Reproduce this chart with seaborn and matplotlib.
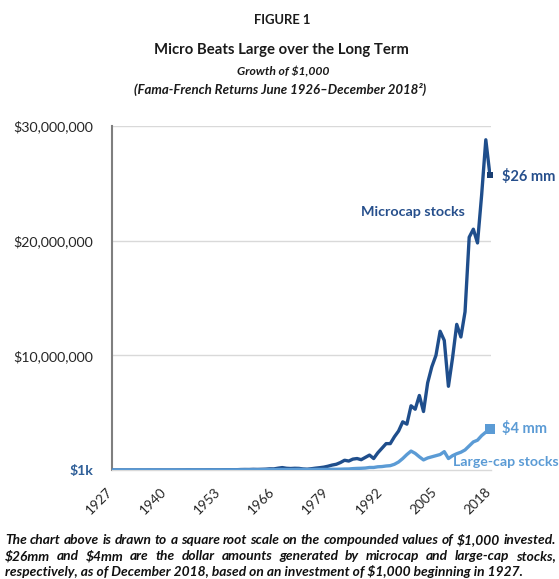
import matplotlib
matplotlib.use("Agg")
import matplotlib.pyplot as plt
import matplotlib.transforms as mtransforms
import seaborn as sns
import pandas as pd

# ---------------- data (values in $ millions) ----------------
years = list(range(1927, 2019))

microcap_mm = [
    0.001, 0.0012, 0.0008, 0.0005, 0.0003, 0.0003, 0.0008, 0.0009, 0.0013, 0.0022,   # 1927-1936
    0.0011, 0.0014, 0.0014, 0.0012, 0.0011, 0.0018, 0.0035, 0.0055, 0.0095, 0.0085,  # 1937-1946
    0.0085, 0.008, 0.0098, 0.0135, 0.0145, 0.015, 0.0145, 0.023, 0.027, 0.028,       # 1947-1956
    0.025, 0.042, 0.048, 0.045, 0.06, 0.052, 0.062, 0.073, 0.10, 0.095,              # 1957-1966
    0.16, 0.21, 0.15, 0.13, 0.15, 0.14, 0.09, 0.07, 0.11, 0.16,                      # 1967-1976
    0.20, 0.25, 0.33, 0.43, 0.50, 0.65, 0.85, 0.78, 0.95, 1.0,                       # 1977-1986
    0.9, 1.1, 1.3, 1.0, 1.5, 1.9, 2.3, 2.3, 2.9, 3.4,                                # 1987-1996
    4.2, 4.0, 5.6, 5.3, 6.5, 5.1, 7.6, 9.0, 10.0, 12.1,                              # 1997-2006
    11.3, 7.3, 9.8, 12.7, 11.6, 13.8, 20.3, 21.0, 19.8, 24.0,                        # 2007-2016
    28.8, 25.7,                                                                       # 2017-2018
]

largecap_mm = [
    0.001, 0.0014, 0.0013, 0.001, 0.0006, 0.0005, 0.0008, 0.0008, 0.0012, 0.0016,    # 1927-1936
    0.001, 0.0013, 0.0013, 0.0012, 0.001, 0.0013, 0.0016, 0.0019, 0.0026, 0.0024,    # 1937-1946
    0.0025, 0.0027, 0.0032, 0.0042, 0.0052, 0.0062, 0.0061, 0.0093, 0.012, 0.013,    # 1947-1956
    0.012, 0.017, 0.019, 0.019, 0.024, 0.022, 0.027, 0.031, 0.035, 0.032,            # 1957-1966
    0.039, 0.043, 0.040, 0.041, 0.047, 0.056, 0.048, 0.035, 0.045, 0.050,            # 1967-1976
    0.048, 0.050, 0.055, 0.065, 0.062, 0.072, 0.085, 0.09, 0.12, 0.14,               # 1977-1986
    0.15, 0.17, 0.22, 0.22, 0.28, 0.30, 0.35, 0.38, 0.50, 0.70,                      # 1987-1996
    1.0, 1.35, 1.65, 1.45, 1.15, 0.88, 1.05, 1.15, 1.25, 1.35,                       # 1997-2006
    1.6, 1.0, 1.25, 1.42, 1.55, 1.75, 2.1, 2.45, 2.6, 3.0,                           # 2007-2016
    3.3, 3.55,                                                                        # 2017-2018
]

series_names = ["Microcap stocks", "Large-cap stocks"]
end_labels = ["$26 mm", "$4 mm"]
ytick_values = [0, 10, 20, 30]
ytick_labels = ["$1k", "$10,000,000", "$20,000,000", "$30,000,000"]
xtick_years = [1927, 1940, 1953, 1966, 1979, 1992, 2005, 2018]

DARK = "#1f4e8c"
LIGHT = "#5b9bd5"

# ---------------- figure ----------------
sns.set_theme(style="white")
plt.rcParams["font.family"] = ["Lato", "DejaVu Sans"]

W, H = 559, 579
fig = plt.figure(figsize=(W / 100, H / 100), dpi=100)
ax = fig.add_axes([112 / W, 1 - 470 / H, (491 - 112) / W, (470 - 126) / H])

df = pd.DataFrame({
    "year": years * 2,
    "value": microcap_mm + largecap_mm,
    "series": [series_names[0]] * len(years) + [series_names[1]] * len(years),
})

sns.lineplot(data=df, x="year", y="value", hue="series", hue_order=series_names,
             palette={series_names[0]: DARK, series_names[1]: LIGHT},
             linewidth=2.4, legend=False, ax=ax, zorder=3)

last = df[df["year"] == years[-1]]
sns.scatterplot(data=last[last["series"] == series_names[0]], x="year", y="value",
                marker="s", s=24, color="#1a3f73", linewidth=0, ax=ax,
                legend=False, clip_on=False, zorder=5)
sns.scatterplot(data=last[last["series"] == series_names[1]], x="year", y="value",
                marker="s", s=60, color=LIGHT, linewidth=0, ax=ax,
                legend=False, clip_on=False, zorder=5)

ax.set_xlim(1927, 2018.25)
ax.set_ylim(0, 30)
ax.set_xlabel("")
ax.set_ylabel("")

ax.set_yticks(ytick_values)
ax.set_yticklabels([t.replace("$", r"\$") for t in ytick_labels], fontsize=10.2,
                   color="#262626")
ax.tick_params(axis="y", length=0, pad=13.5)
ylabs = ax.get_yticklabels()
ylabs[0].set_color("#2f5f98")
ylabs[0].set_fontweight("bold")

ax.set_xticks(xtick_years)
ax.set_xticklabels([str(y) for y in xtick_years], rotation=45, ha="right",
                   fontsize=9.8, color="#262626")
ax.tick_params(axis="x", length=0, pad=11)
shift = mtransforms.ScaledTranslation(3 / 100, 0, fig.dpi_scale_trans)
for lab in ax.get_xticklabels():
    lab.set_transform(lab.get_transform() + shift)

for v in ytick_values[1:]:
    ax.axhline(v, color="#d9d9d9", linewidth=1.0, zorder=1)

for s in ["top", "right"]:
    ax.spines[s].set_visible(False)
ax.spines["left"].set_color("#7f7f7f")
ax.spines["left"].set_linewidth(1.5)
ax.spines["bottom"].set_color("#d9d9d9")
ax.spines["bottom"].set_linewidth(1.0)
ax.grid(False)

# series annotations
ax.text(2012.0, 22.5, series_names[0], color="#264f8c", fontsize=10.3,
        fontweight="bold", ha="right", va="center")
ax.text(2020.8, 25.6, end_labels[0].replace("$", r"\$"), color="#264f8c",
        fontsize=10.5, fontweight="bold", ha="left", va="center", clip_on=False)
ax.text(2020.8, 3.6, end_labels[1].replace("$", r"\$"), color=LIGHT,
        fontsize=10.5, fontweight="bold", ha="left", va="center", clip_on=False)
ax.text(2034.5, 0.7, series_names[1], color=LIGHT, fontsize=10.2,
        fontweight="bold", ha="right", va="center", clip_on=False)

# ---------------- titles & caption ----------------
fig.canvas.draw()
renderer = fig.canvas.get_renderer()


def fitted(x_px, y_px, s, width_px, ha="center", **kw):
    t = fig.text(x_px / W, 1 - y_px / H, s, ha=ha, va="center", fontsize=10, **kw)
    bb = t.get_window_extent(renderer)
    t.set_fontsize(10 * width_px / bb.width)
    return t


fitted(282.5, 20, "FIGURE 1", 57, fontweight="bold", color="#1a1a1a")
fitted(281, 50, "Micro Beats Large over the Long Term", 256, fontweight="bold",
       color="#1a1a1a")
fitted(283, 72, r"Growth of \$1,000", 92, fontweight="bold", style="italic",
       color="#1a1a1a")
fitted(280, 89, "(Fama-French Returns June 1926\u2013December 2018\u00b2)", 292,
       fontweight="bold", style="italic", color="#1a1a1a")

cap_lines = [
    r"The chart above is drawn to a square root scale on the compounded values of \$1,000 invested.",
    r"\$26mm and \$4mm are the dollar amounts generated by microcap and large-cap stocks,",
    r"respectively, as of December 2018, based on an investment of \$1,000 beginning in 1927.",
]
cap_y = [540, 556, 571]
last_line = fitted(5, cap_y[2], cap_lines[2], 518, ha="left", fontweight="bold",
                   style="italic", color="#111111")
cap_fs = last_line.get_fontsize()

# justify first two lines between x=5 and x=556
for line, yy in zip(cap_lines[:2], cap_y[:2]):
    words = line.split(" ")
    objs, widths = [], []
    for w_ in words:
        t = fig.text(0, 1 - yy / H, w_, ha="left", va="center", fontsize=cap_fs,
                     fontweight="bold", style="italic", color="#111111")
        objs.append(t)
        widths.append(t.get_window_extent(renderer).width)
    gap = (556 - 5 - sum(widths)) / (len(words) - 1)
    x = 5.0
    for t, wdt in zip(objs, widths):
        t.set_x(x / W)
        x += wdt + gap

fig.savefig("out.png", dpi=100)
